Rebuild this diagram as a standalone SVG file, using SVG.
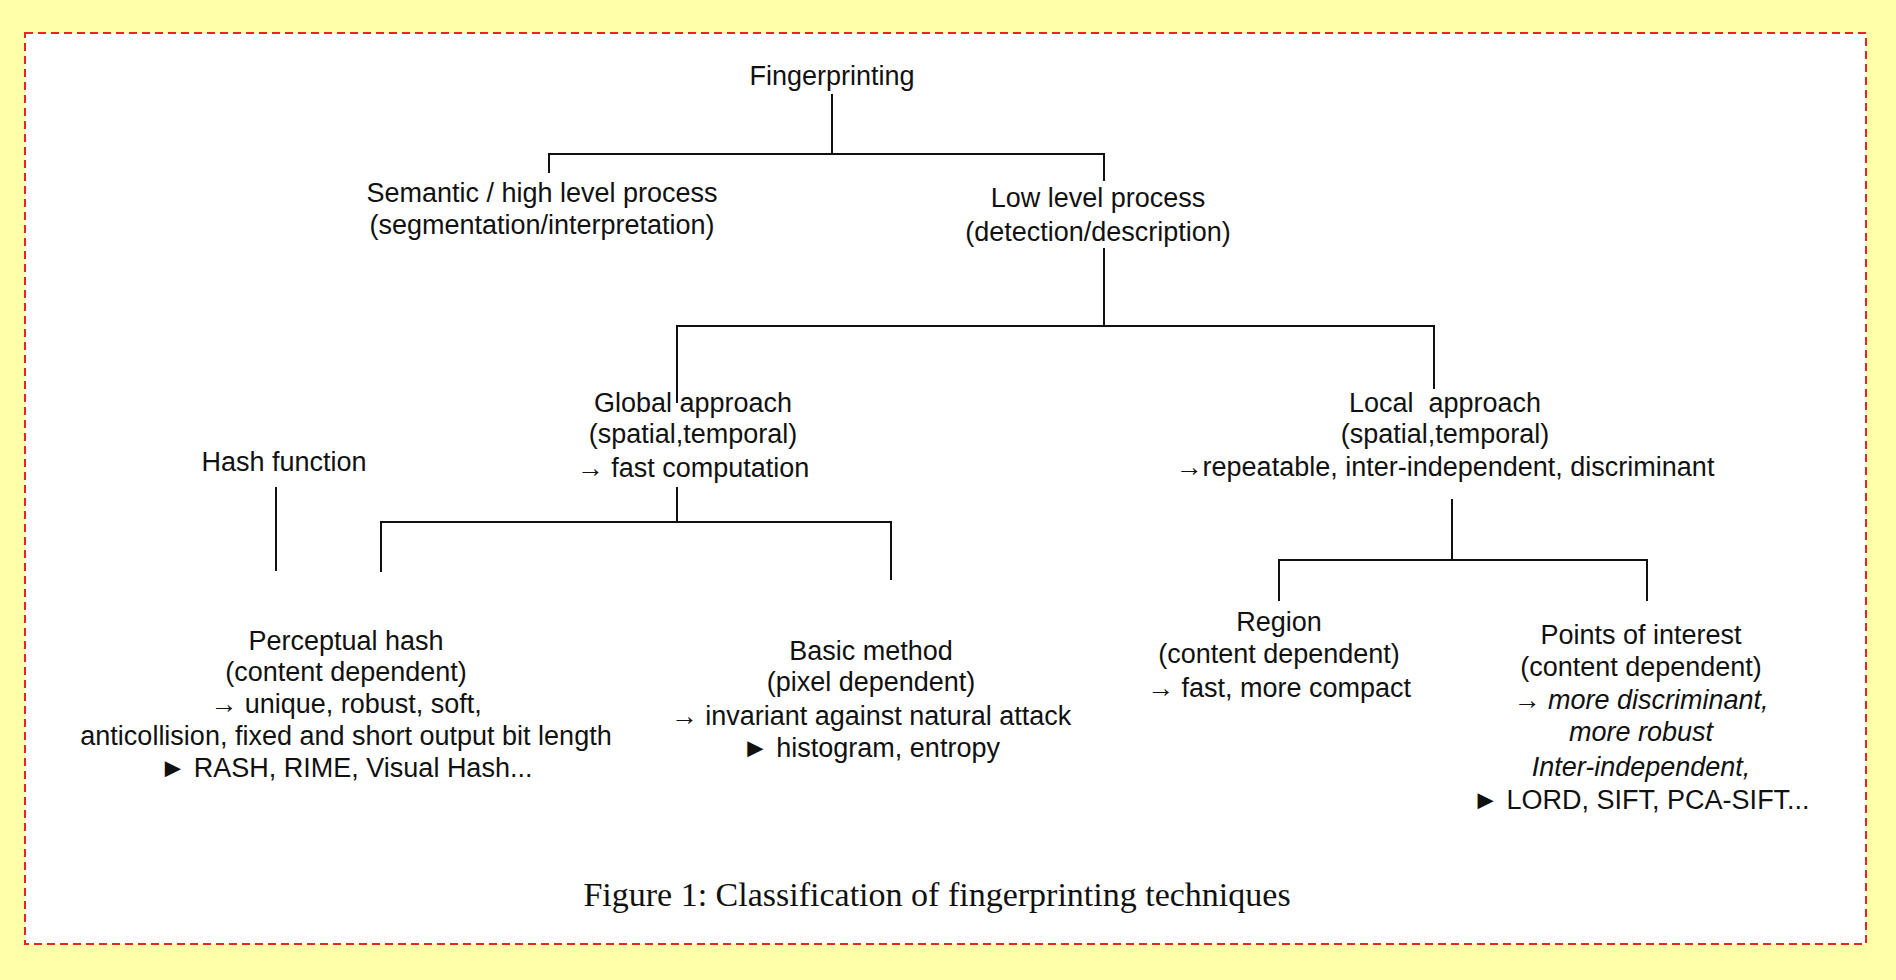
<svg xmlns="http://www.w3.org/2000/svg" width="1896" height="980" viewBox="0 0 1896 980">
<style>
.t{font-family:"Liberation Sans",Arial,sans-serif;font-size:27px;fill:#111;text-anchor:middle}
.i{font-style:italic}
.cap{font-family:"Liberation Serif","Times New Roman",serif;font-size:34px;fill:#111;text-anchor:middle}
.c{stroke:#111;stroke-width:2;fill:none}
</style>
<rect x="0" y="0" width="1896" height="980" fill="#FFFFAA"/>
<rect x="25" y="33" width="1841" height="911" fill="#FFFFFF" stroke="#E8242A" stroke-width="2" stroke-dasharray="8,5"/>
<g id="connectors" class="c">
<path d="M832 94V154M549 173V154H1104V181"/>
<path d="M1104 248V326M677 403V326H1434V389"/>
<path d="M677 487V522M381 572V522H891V580"/>
<path d="M276 487V571"/>
<path d="M1452 499V560M1279 601V560H1647V601"/>
</g>
<g id="n-fingerprinting"><text class="t" x="832" y="85">Fingerprinting</text></g>
<g id="n-semantic"><text class="t" x="542" y="202">Semantic / high level process</text><text class="t" x="542" y="234">(segmentation/interpretation)</text></g>
<g id="n-lowlevel"><text class="t" x="1098" y="207">Low level process</text><text class="t" x="1098" y="241">(detection/description)</text></g>
<g id="n-global"><text class="t" x="693" y="412">Global approach</text><text class="t" x="693" y="443">(spatial,temporal)</text><text class="t" x="693" y="477">→ fast computation</text></g>
<g id="n-local"><text class="t" x="1445" y="412" xml:space="preserve">Local  approach</text><text class="t" x="1445" y="443">(spatial,temporal)</text><text class="t" x="1445" y="476">→repeatable, inter-independent, discriminant</text></g>
<g id="n-hash"><text class="t" x="284" y="471">Hash function</text></g>
<g id="n-perceptual"><text class="t" x="346" y="650">Perceptual hash</text><text class="t" x="346" y="681">(content dependent)</text><text class="t" x="346" y="713">→ unique, robust, soft,</text><text class="t" x="346" y="745">anticollision, fixed and short output bit length</text><text class="t" x="346" y="777">► RASH, RIME, Visual Hash...</text></g>
<g id="n-basic"><text class="t" x="871" y="660">Basic method</text><text class="t" x="871" y="691">(pixel dependent)</text><text class="t" x="871" y="725">→ invariant against natural attack</text><text class="t" x="871" y="757">► histogram, entropy</text></g>
<g id="n-region"><text class="t" x="1279" y="631">Region</text><text class="t" x="1279" y="663">(content dependent)</text><text class="t" x="1279" y="697">→ fast, more compact</text></g>
<g id="n-points"><text class="t" x="1641" y="644">Points of interest</text><text class="t" x="1641" y="676">(content dependent)</text><text class="t i" x="1641" y="709">→ more discriminant,</text><text class="t i" x="1641" y="741">more robust</text><text class="t i" x="1641" y="776">Inter-independent,</text><text class="t" x="1641" y="809">► LORD, SIFT, PCA-SIFT...</text></g>
<g id="caption"><text class="cap" x="937" y="906">Figure 1: Classification of fingerprinting techniques</text></g>
</svg>
